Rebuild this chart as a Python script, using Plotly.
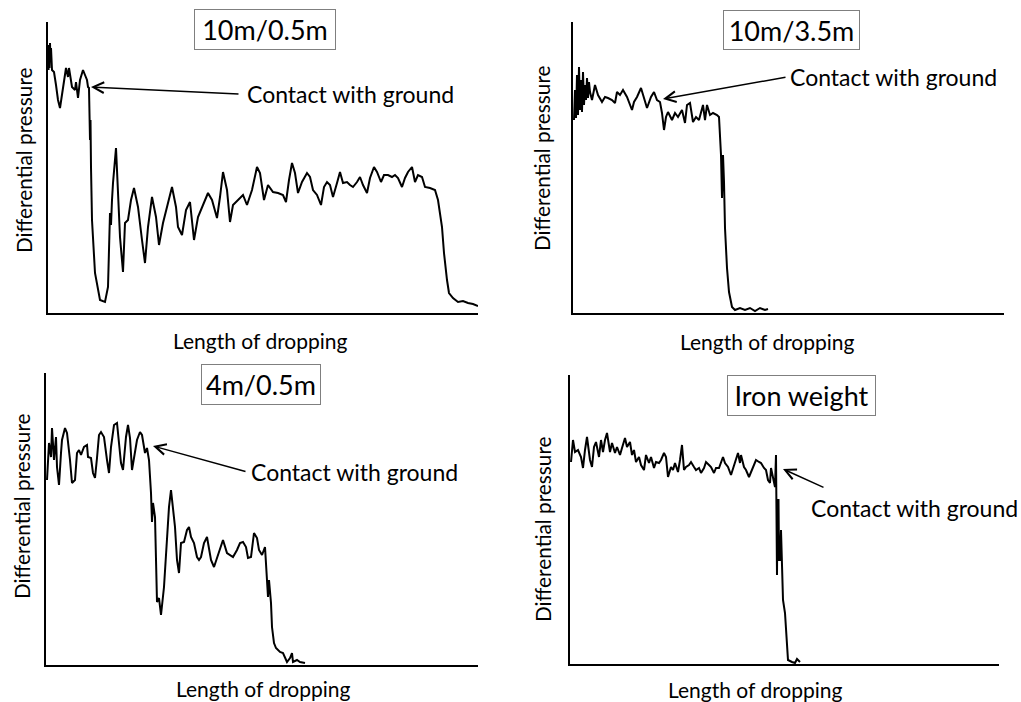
import plotly.graph_objects as go

W, H = 1021, 702

# ---------------- data (arbitrary units) ----------------
p1_x = [0.5, 1, 1.5, 2, 2.5, 3, 4, 6, 8, 10, 12, 14, 15, 18, 20, 21, 24, 27, 28, 30, 32, 35, 37, 39, 40, 41,
        42, 42.5, 43, 44, 47, 50, 52, 57, 60, 62, 63, 64, 65, 68, 70, 72, 75, 77, 80, 83, 86, 90, 94, 97, 100,
        104, 108, 111, 115, 120, 124, 128, 130, 134, 138, 142, 146, 150, 154, 160, 164, 169, 172, 175, 179,
        182, 185, 190, 195, 199, 204, 209, 212, 216, 220, 225, 230, 235, 238, 241, 244, 247, 250, 254, 259,
        262, 265, 269, 273, 276, 279, 282, 285, 289, 292, 295, 299, 302, 305, 309, 312, 315, 319, 322, 326,
        329, 333, 336, 340, 344, 347, 350, 354, 357, 360, 364, 367, 370, 374, 377, 382, 387, 390, 394, 396,
        399, 401, 405, 410, 415, 420, 425, 430]
p1_y = [243, 268, 245, 270, 251, 265, 243, 241, 228, 213, 205, 218, 226, 245, 236, 245, 226, 223, 231, 215, 233,
        243, 238, 233, 226, 225, 173, 193, 146, 93, 40, 21, 13, 11, 26, 100, 88, 113, 130, 165, 120, 76, 41,
        90, 93, 113, 125, 106, 73, 50, 86, 116, 96, 68, 90, 110, 126, 106, 86, 78, 103, 111, 73, 96, 106, 120,
        113, 95, 116, 141, 123, 91, 108, 113, 118, 108, 123, 146, 140, 113, 128, 121, 120, 118, 111, 133, 150,
        140, 120, 131, 140, 136, 123, 118, 108, 126, 131, 128, 116, 130, 141, 130, 131, 128, 126, 131, 136,
        128, 120, 135, 146, 141, 131, 138, 138, 136, 138, 135, 126, 135, 141, 146, 131, 138, 136, 126, 125,
        123, 113, 86, 60, 33, 20, 15, 11, 12, 10, 9, 7]

p2_x = [1, 2, 3, 4, 5, 6, 7, 8, 9, 10, 11, 12, 13, 14, 15, 16, 17, 19, 22, 25, 29, 32, 35, 39, 42, 44, 47, 50,
        54, 56, 59, 61, 64, 68, 71, 74, 78, 81, 84, 87, 89, 91, 93, 95, 99, 102, 105, 109, 112, 114, 117, 120,
        123, 126, 130, 132, 134, 137, 140, 144, 146, 148, 149, 150, 151, 152, 154, 156, 159, 162, 167, 172,
        177, 182, 187, 192, 195]
p2_y = [193, 223, 195, 238, 198, 246, 203, 233, 201, 241, 208, 228, 213, 235, 215, 231, 221, 213, 228, 218, 211,
        216, 215, 213, 210, 221, 218, 223, 216, 210, 203, 211, 216, 225, 215, 205, 216, 221, 213, 211, 200,
        183, 196, 201, 193, 200, 196, 203, 190, 208, 210, 191, 196, 193, 208, 193, 208, 198, 200, 198, 196,
        158, 115, 158, 131, 85, 45, 21, 6, 3, 5, 3, 5, 2, 5, 3, 4]

p3_x = [1, 3, 5, 6, 8, 10, 11, 13, 15, 16, 19, 21, 24, 26, 29, 31, 33, 35, 38, 41, 42, 45, 47, 49, 51, 53, 55,
        58, 61, 63, 65, 68, 71, 73, 75, 77, 80, 82, 84, 86, 89, 91, 94, 96, 99, 101, 103, 105, 106, 107, 109,
        110, 111, 113, 115, 118, 121, 123, 125, 126, 129, 131, 133, 135, 138, 141, 143, 145, 148, 151, 153,
        155, 158, 161, 163, 165, 168, 171, 174, 177, 181, 184, 187, 191, 194, 197, 200, 202, 205, 208, 211,
        213, 216, 219, 221, 222, 223, 225, 226, 228, 230, 234, 237, 241, 244, 246, 247, 251, 254, 259]
p3_y = [185, 222, 208, 237, 205, 228, 198, 180, 212, 225, 237, 232, 205, 182, 185, 212, 215, 210, 218, 220, 208,
        207, 192, 187, 207, 230, 233, 228, 205, 192, 218, 240, 242, 222, 202, 195, 228, 240, 227, 195, 212,
        225, 233, 230, 212, 217, 205, 172, 143, 162, 148, 98, 63, 67, 50, 78, 122, 158, 175, 165, 138, 105,
        92, 122, 123, 135, 138, 128, 122, 108, 105, 108, 122, 128, 118, 105, 98, 107, 115, 125, 112, 110, 108,
        115, 122, 123, 118, 107, 108, 132, 127, 115, 110, 118, 88, 68, 85, 62, 38, 22, 17, 13, 12, 3, 7, 12,
        3, 5, 3, 2]

p4_x = [1, 3, 5, 8, 11, 13, 15, 17, 20, 22, 24, 26, 29, 31, 33, 35, 37, 40, 42, 45, 47, 50, 52, 55, 57, 60, 62,
        64, 66, 69, 71, 74, 76, 79, 81, 84, 86, 89, 91, 94, 96, 98, 101, 103, 105, 108, 110, 112, 114, 116,
        119, 121, 124, 126, 129, 131, 134, 136, 139, 141, 144, 146, 149, 151, 153, 155, 158, 161, 163, 165,
        168, 170, 171, 174, 176, 179, 181, 184, 186, 189, 191, 194, 196, 198, 200, 201, 203, 205, 206, 206.5,
        207, 207.5, 208.5, 209, 210, 211, 212, 213, 215, 217, 218, 222, 225, 227, 230]
p4_y = [202, 224, 212, 214, 207, 196, 214, 227, 204, 197, 217, 222, 207, 224, 212, 224, 231, 212, 221, 211, 217,
        209, 216, 226, 217, 222, 209, 214, 202, 207, 199, 194, 209, 201, 207, 196, 202, 201, 204, 211, 207,
        187, 197, 194, 201, 192, 204, 219, 194, 197, 199, 202, 197, 194, 196, 191, 196, 202, 199, 197, 191,
        196, 196, 202, 207, 201, 197, 189, 196, 202, 211, 201, 209, 197, 194, 187, 192, 199, 204, 202, 201,
        196, 194, 184, 181, 196, 187, 177, 209, 124, 89, 164, 164, 104, 104, 134, 84, 64, 51, 14, 4, 2, 1, 5, 2]

panels = [
    # (x, y, x-range, y-range, title, pixel box of plot area: left, right, top, bottom)
    (p1_x, p1_y, 430, 291, "10m/0.5m", (48, 478, 22, 313)),
    (p2_x, p2_y, 431, 291, "10m/3.5m", (573, 1004, 22, 313)),
    (p3_x, p3_y, 432, 292, "4m/0.5m", (46, 478, 373, 665)),
    (p4_x, p4_y, 429, 289, "Iron weight", (570, 999, 375, 664)),
]

x_label = "Length of dropping"
y_label = "Differential pressure"
contact = "Contact with ground"


def px(x):
    return x / W


def py(y):
    return 1 - y / H


FONT = "Lato"
fig = go.Figure()
layout = dict(
    width=W, height=H, margin=dict(l=0, r=0, t=0, b=0),
    paper_bgcolor="white", plot_bgcolor="white", showlegend=False,
    font=dict(family=FONT, color="black"),
)
for i, (xs, ys, xr, yr, title, (l, r, t, b)) in enumerate(panels, start=1):
    sfx = "" if i == 1 else str(i)
    fig.add_trace(go.Scatter(x=xs, y=ys, mode="lines",
                             line=dict(color="black", width=2),
                             xaxis="x" + sfx, yaxis="y" + sfx, hoverinfo="skip"))
    ax = dict(domain=[px(l), px(r)], showline=True, linecolor="black", linewidth=2,
              showticklabels=False, ticks="", showgrid=False, zeroline=False, fixedrange=True)
    layout["xaxis" + sfx] = dict(ax, range=[0, xr], anchor="y" + sfx)
    layout["yaxis" + sfx] = dict(ax, domain=[py(b), py(t)], range=[0, yr], anchor="x" + sfx)

annotations = []
# titles in boxes: (center x, center y, width, height)
boxes = [(265, 29.5, 142, 41), (791.5, 30, 137, 40), (261, 384.5, 120, 41), (801.5, 395.5, 149, 41)]
for (title_panel, (cx, cy, bw, bh)) in zip(panels, boxes):
    annotations.append(dict(text=title_panel[4], x=px(cx), y=py(cy), xref="paper", yref="paper",
                            xanchor="center", yanchor="middle", showarrow=False,
                            width=bw - 2, height=bh - 2, borderpad=0,
                            bordercolor="#7f7f7f", borderwidth=1, bgcolor="white",
                            font=dict(size=27, family=FONT, color="black")))

# axis titles
xlab_pos = [(260, 340), (767, 341), (263, 688), (755, 689)]
ylab_pos = [(23, 160), (542, 158), (22, 506), (542, 529)]
for (cx, cy) in xlab_pos:
    annotations.append(dict(text=x_label, x=px(cx), y=py(cy), xref="paper", yref="paper",
                            xanchor="center", yanchor="middle", showarrow=False,
                            font=dict(size=21, family=FONT, color="black")))
for (cx, cy) in ylab_pos:
    annotations.append(dict(text=y_label, x=px(cx), y=py(cy), xref="paper", yref="paper",
                            xanchor="center", yanchor="middle", showarrow=False, textangle=-90,
                            font=dict(size=20.8, family=FONT, color="black")))

# "Contact with ground" labels and arrows: text center, arrow tip, arrow tail
contact_text = [(350, 94), (893, 77), (354, 472), (914, 508)]
arrow_tip = [(91, 87), (663, 99), (153, 446), (783, 469)]
arrow_tail = [(240, 94), (787, 77), (247, 472), (825, 488)]
for (tx, ty), (ax_, ay_), (bx, by) in zip(contact_text, arrow_tip, arrow_tail):
    annotations.append(dict(text=contact, x=px(tx), y=py(ty), xref="paper", yref="paper",
                            xanchor="center", yanchor="middle", showarrow=False,
                            font=dict(size=23, family=FONT, color="black")))
    annotations.append(dict(text="", x=px(ax_), y=py(ay_), xref="paper", yref="paper",
                            showarrow=True, ax=bx - ax_, ay=by - ay_, axref="pixel", ayref="pixel",
                            arrowhead=5, arrowsize=1.4, arrowwidth=1.5, arrowcolor="black"))

layout["annotations"] = annotations
fig.update_layout(**layout)
fig.write_html("out.html")
